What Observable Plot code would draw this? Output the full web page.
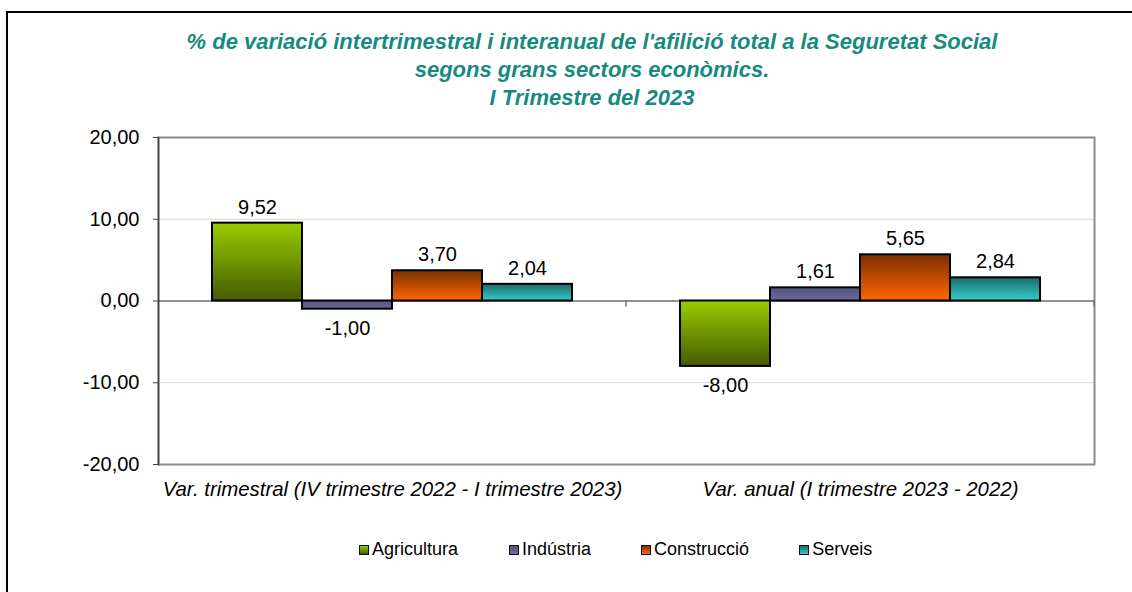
<!DOCTYPE html>
<html>
<head>
<meta charset="utf-8">
<script src="https://cdn.jsdelivr.net/npm/d3@7"></script>
<script src="https://cdn.jsdelivr.net/npm/@observablehq/plot@0.6"></script>
<style>
  html, body { margin: 0; padding: 0; background: #fff; overflow: hidden; width: 1132px; height: 592px; }
  body { font-family: Arial, "Liberation Sans", sans-serif; position: relative; }
  #frame { position: absolute; left: 6px; top: 11px; width: 1300px; height: 800px; border-left: 2px solid #000; border-top: 2px solid #000; box-sizing: border-box; }
  #title { position: absolute; left: 0; top: 28px; width: 1184px; text-align: center; color: #178a80; font-weight: bold; font-style: italic; font-size: 22px; line-height: 28px; }
  #chart { position: absolute; left: 0; top: 120px; }
  #legend { position: absolute; left: 359px; top: 539px; display: flex; font-size: 18px; color: #000; }
  .item { display: flex; align-items: center; }
  .sw { width: 8px; height: 8px; border: 1.5px solid #111; margin-right: 3px; }
</style>
</head>
<body>
<div id="frame"></div>
<div id="title">% de variació intertrimestral i interanual de l'afilició total a la Seguretat Social<br>segons grans sectors econòmics.<br>I Trimestre del 2023</div>
<div id="chart"></div>
<div id="legend"></div>
<script>
const categories = ["Var. trimestral (IV trimestre 2022 - I trimestre 2023)", "Var. anual (I trimestre 2023 - 2022)"];
const sectors = ["Agricultura", "Indústria", "Construcció", "Serveis"];
const varTrimestral = [9.52, -1.00, 3.70, 2.04];
const varAnual = [-8.00, 1.61, 5.65, 2.84];
const yTicks = [-20, -10, 0, 10, 20];
const gradTop = ["#9acd00", "#55557d", "#7a3000", "#1d6a6a"];
const gradBottom = ["#465a00", "#6a6aa0", "#ff6600", "#33cccc"];
const legendGap = [0, 51, 50, 50];

const seriesValues = [varTrimestral, varAnual];
const data = [];
categories.forEach((c, ci) => sectors.forEach((s, si) => data.push({category: c, sector: s, value: seriesValues[ci][si]})));

const fmt = v => d3.format(".2f")(v).replace(".", ",").replace("\u2212", "-");

const defs = () => {
  const d = d3.create("svg:defs");
  sectors.forEach((s, i) => {
    const g = d.append("linearGradient").attr("id", "g" + i).attr("x1", 0).attr("y1", 0).attr("x2", 0).attr("y2", 1);
    g.append("stop").attr("offset", "0%").attr("stop-color", gradTop[i]);
    g.append("stop").attr("offset", "100%").attr("stop-color", gradBottom[i]);
  });
  return d.node();
};

// small category-boundary tick on the zero line, at the right edge of each facet
const categoryTick = (index, scales) => {
  const g = d3.create("svg:g");
  try {
    const r = scales.x.range();
    const y0 = scales.y(0);
    g.append("line").attr("x1", r[1]).attr("x2", r[1]).attr("y1", y0).attr("y2", y0 + 6)
      .attr("stroke", "#707070").attr("stroke-width", 1.5);
  } catch (e) {}
  return g.node();
};

const chart = Plot.plot({
  width: 1132,
  height: 380,
  marginLeft: 157,
  marginRight: 38,
  marginTop: 17,
  marginBottom: 36,
  style: {fontFamily: 'Arial, "Liberation Sans", sans-serif', fontSize: "20px", color: "#000", background: "transparent", overflow: "visible"},
  fx: {domain: categories, padding: 0, label: null},
  x: {domain: sectors, paddingInner: 0, paddingOuter: 0.6, axis: null},
  y: {domain: [-20, 20], label: null},
  color: {domain: sectors, range: sectors.map((s, i) => `url(#g${i})`)},
  marks: [
    defs,
    Plot.ruleY([-10, 10], {stroke: "#d9d9d9", strokeWidth: 1}),
    Plot.frame({facet: "super", stroke: "#8c8c8c", strokeWidth: 2}),
    Plot.frame({facet: "super", anchor: "left", stroke: "#404040", strokeWidth: 1.5}),
    Plot.axisY({anchor: "left", ticks: yTicks, tickSize: 5, tickPadding: 14, tickFormat: fmt, stroke: "#404040", label: null, fontSize: 20}),
    Plot.ruleY([0], {stroke: "#222", strokeWidth: 1}),
    categoryTick,
    Plot.barY(data, {fx: "category", x: "sector", y: "value", fill: "sector", stroke: "#000", strokeWidth: 2}),
    Plot.text(data.filter(d => d.value >= 0), {fx: "category", x: "sector", y: "value", text: d => fmt(d.value), dy: -16, fontSize: 20, fill: "#000"}),
    Plot.text(data.filter(d => d.value < 0), {fx: "category", x: "sector", y: "value", text: d => fmt(d.value), dy: 19, fontSize: 20, fill: "#000"}),
    Plot.axisFx({anchor: "bottom", tickSize: 0, tickPadding: 17, fontSize: 20.4, fontStyle: "italic", label: null})
  ]
});
document.getElementById("chart").appendChild(chart);

const legend = document.getElementById("legend");
sectors.forEach((s, i) => {
  const item = document.createElement("div");
  item.className = "item";
  item.style.marginLeft = legendGap[i] + "px";
  const sw = document.createElement("div");
  sw.className = "sw";
  sw.style.background = `linear-gradient(${gradTop[i]}, ${gradBottom[i]})`;
  const t = document.createElement("span");
  t.textContent = s;
  item.appendChild(sw);
  item.appendChild(t);
  legend.appendChild(item);
});
</script>
</body>
</html>
